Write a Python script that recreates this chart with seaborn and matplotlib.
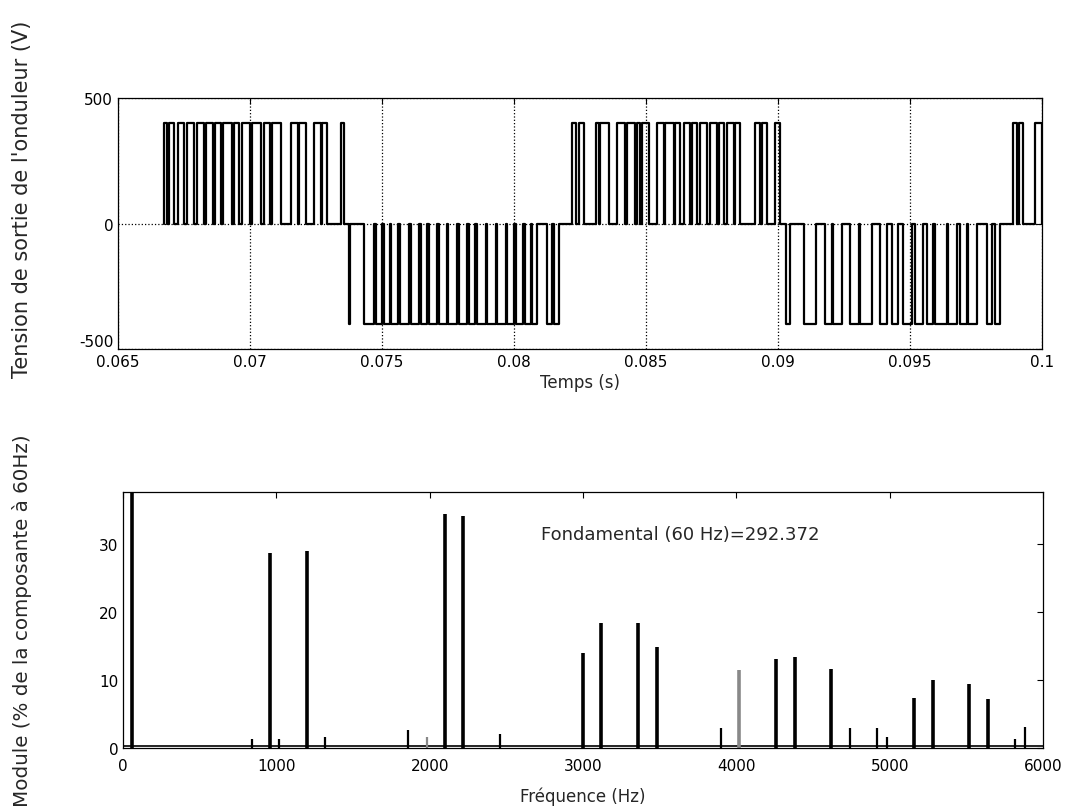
import numpy as np
import pandas as pd
import seaborn as sns
import matplotlib.pyplot as plt

# ---- inverter output voltage: pulse edges, in ms ----
vdc = 400

half1_pulses = [(66.73, 66.85), (66.94, 67.13), (67.26, 67.51), (67.61, 67.89), (67.99, 68.24),
                (68.33, 68.58), (68.67, 68.90), (68.99, 69.31), (69.40, 69.59), (69.68, 69.98),
                (70.08, 70.41), (70.54, 70.76), (70.85, 71.17), (71.55, 71.80), (71.86, 72.11),
                (72.43, 72.68), (72.74, 72.93), (73.44, 73.56)]
half2_pulses = [(73.74, 73.80), (74.32, 74.70), (74.76, 75.01), (75.08, 75.30), (75.35, 75.61),
                (75.68, 76.02), (76.09, 76.40), (76.46, 76.69), (76.78, 77.07), (77.16, 77.45),
                (77.50, 77.83), (77.91, 78.20), (78.29, 78.54), (78.61, 78.92), (78.99, 79.30),
                (79.36, 79.68), (79.74, 80.00), (80.06, 80.35), (80.40, 80.63), (80.69, 80.88),
                (81.26, 81.45), (81.51, 81.70)]
half3_pulses = [(82.20, 82.33), (82.45, 82.64), (83.09, 83.21), (83.27, 83.59), (83.90, 84.22),
                (84.28, 84.60), (84.66, 84.79), (84.85, 85.10), (85.42, 85.67), (85.73, 86.05),
                (86.11, 86.30), (86.43, 86.68), (86.74, 86.93), (87.06, 87.31), (87.44, 87.69),
                (87.75, 87.94), (88.07, 88.32), (88.38, 88.57), (89.14, 89.33), (89.39, 89.58),
                (89.90, 90.09)]
half4_pulses = [(90.31, 90.44), (90.97, 91.45), (91.79, 92.04), (92.10, 92.42), (92.73, 93.05),
                (93.11, 93.55), (93.87, 94.12), (94.31, 94.56), (94.75, 95.07), (95.19, 95.51),
                (95.63, 95.89), (95.95, 96.39), (96.45, 96.77), (96.90, 97.15), (97.21, 97.53),
                (97.90, 98.09), (98.22, 98.41)]
half5_pulses = [(98.91, 99.06), (99.14, 99.29), (99.73, 100.0)]
half_signs = [1, -1, 1, -1, 1]

# ---- harmonic spectrum (% of the 60 Hz component) ----
freqs = [60, 840, 960, 1020, 1200, 1320, 1860, 1980, 2100, 2220, 2460,
         3000, 3120, 3360, 3480, 3900, 4020, 4260, 4380, 4620, 4740,
         4920, 4980, 5160, 5280, 5520, 5640, 5820, 5880]
mags = [100, 1.3, 28.6, 1.3, 28.9, 1.6, 2.7, 1.6, 34.3, 34.1, 2.0,
        14.0, 18.3, 18.4, 14.8, 3.0, 11.5, 13.0, 13.4, 11.6, 3.0,
        3.0, 1.6, 7.4, 10.0, 9.4, 7.2, 1.3, 3.1]
noise_floor = 0.3
fund_text = "Fondamental (60 Hz)=292.372"

# build the step waveform
t, v = [], []
for pulses, s in zip([half1_pulses, half2_pulses, half3_pulses, half4_pulses, half5_pulses], half_signs):
    for on, off in pulses:
        t += [on, on, off, off]
        v += [0, s * vdc, s * vdc, 0]
wave = pd.DataFrame({"t": np.array(t) / 1000.0, "v": v})

sns.set_style("white")
plt.rcParams["font.family"] = ["DejaVu Sans"]
plt.rcParams.update({
    "xtick.direction": "in", "ytick.direction": "in",
    "xtick.top": True, "ytick.right": True,
    "xtick.major.size": 4, "ytick.major.size": 4,
    "xtick.major.width": 0.8, "ytick.major.width": 0.8,
    "axes.edgecolor": "black", "axes.linewidth": 0.9,
    "xtick.color": "black", "ytick.color": "black",
    "xtick.labelsize": 11, "ytick.labelsize": 11,
})

fig = plt.figure(figsize=(10.76, 8.12), dpi=100)
ax1 = fig.add_axes([0.1097, 0.569, 0.8587, 0.309])
ax2 = fig.add_axes([0.1143, 0.0776, 0.855, 0.3153])

# top: output voltage
sns.lineplot(data=wave, x="t", y="v", ax=ax1, sort=False, estimator=None,
             color="black", linewidth=1.6)
ax1.set_xlim(0.065, 0.1)
ax1.set_ylim(-500, 500)
xt = [0.065, 0.07, 0.075, 0.08, 0.085, 0.09, 0.095, 0.1]
ax1.set_xticks(xt)
ax1.set_xticklabels(["0.065", "0.07", "0.075", "0.08", "0.085", "0.09", "0.095", "0.1"])
ax1.set_yticks([-500, 0, 500])
ax1.set_yticklabels(["-500", "0", "500"])
ax1.get_yticklabels()[0].set_va("bottom")
ax1.grid(True, linestyle=":", color="black", linewidth=0.9)
ax1.set_axisbelow(True)
ax1.set_xlabel("Temps (s)", fontsize=12, labelpad=3)
ax1.set_ylabel("Tension de sortie de l'onduleur (V)", fontsize=15)
ax1.yaxis.set_label_coords(-0.093, 0.60)

# bottom: spectrum
colors = ["#888888" if f in (1980, 4020) else "black" for f in freqs]
widths = [2.6 if m > 5 else 1.6 for m in mags]
ax2.hlines(noise_floor, 0, 6000, color="black", linewidth=1.2)
ax2.vlines(freqs, 0, mags, colors=colors, linewidths=widths)
ax2.set_xlim(0, 6000)
ax2.set_ylim(0, 37.6)
ax2.set_xticks([0, 1000, 2000, 3000, 4000, 5000, 6000])
ax2.set_yticks([0, 10, 20, 30])
ax2.tick_params(axis="x", pad=7)
ax2.set_xlabel("Fréquence (Hz)", fontsize=12, labelpad=10)
ax2.set_ylabel("Module (% de la composante à 60Hz)", fontsize=14.3)
ax2.yaxis.set_label_coords(-0.099, 0.50)
ax2.text(2724, 31.4, fund_text, fontsize=13, va="center", ha="left")

fig.savefig("out.png", dpi=100)
